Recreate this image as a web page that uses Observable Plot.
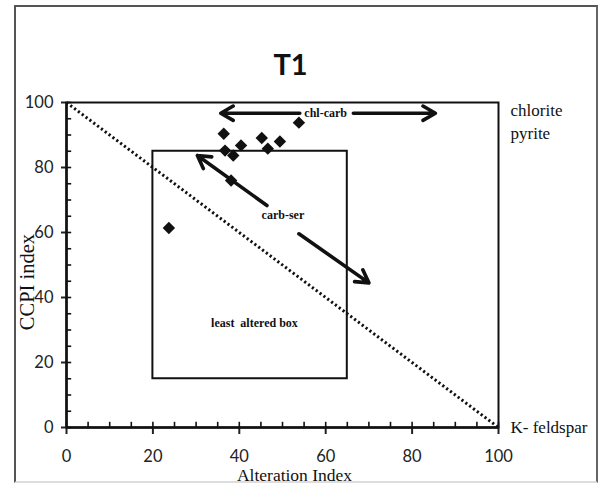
<!DOCTYPE html>
<html>
<head>
<meta charset="utf-8">
<script src="https://cdn.jsdelivr.net/npm/d3@7"></script>
<script src="https://cdn.jsdelivr.net/npm/@observablehq/plot@0.6"></script>
<style>
  html, body { margin: 0; padding: 0; background: #fff; }
  #wrap { position: relative; width: 598px; height: 484px; overflow: hidden; }
  #border { position: absolute; left: 14px; top: 5px; width: 580px; height: 474px;
            border-left: 2px solid #555; border-top: 2px solid #555; border-right: 2px solid #666;
            border-bottom: 2px solid #ddd; pointer-events: none; }
</style>
</head>
<body>
<div id="wrap"><div id="border"></div></div>
<script>
// Data
const alterationIndex = [53.8, 36.4, 36.7, 40.4, 38.6, 45.2, 46.6, 49.4, 38.1, 23.7];
const ccpiIndex       = [93.8, 90.4, 85.2, 86.8, 83.7, 89.1, 85.8, 88.0, 76.0, 61.4];

const majorTicks = [0, 20, 40, 60, 80, 100];
const minorTicks = [0, 5, 10, 15, 20, 25, 30, 35, 40, 45, 50, 55, 60, 65, 70, 75, 80, 85, 90, 95, 100];

// least altered box
const boxX = [20, 65];
const boxY = [15, 85];

// diagonal reference line
const diagX = [0, 100];
const diagY = [100, 0];

// arrows (start near label, head at end)
const arrowX1 = [54.0, 66.4, 46.4, 53.8];
const arrowY1 = [96.7, 96.7, 68.3, 59.6];
const arrowX2 = [35.7, 85.4, 30.3, 70.0];
const arrowY2 = [96.7, 96.7, 83.7, 44.5];

// in-plot labels
const innerLabels = ["chl-carb", "carb-ser", "least  altered box"];
const innerLabelX = [60, 50.1, 43.5];
const innerLabelY = [96.7, 65.2, 32.1];

// right side labels
const sideLabels = ["chlorite", "pyrite", "K- feldspar"];
const sideLabelY = [97.5, 90.4, 0];

const title = "T1";
const xLabel = "Alteration Index";
const yLabel = "CCPI index";

const points = alterationIndex.map((x, i) => ({x, y: ccpiIndex[i]}));
const box = [{x1: boxX[0], x2: boxX[1], y1: boxY[0], y2: boxY[1]}];
const diag = diagX.map((x, i) => ({x, y: diagY[i]}));
const arrows = arrowX1.map((x1, i) => ({x1, y1: arrowY1[i], x2: arrowX2[i], y2: arrowY2[i]}));
const inner = innerLabels.map((t, i) => ({t, x: innerLabelX[i], y: innerLabelY[i]}));
const side = sideLabels.map((t, i) => ({t, y: sideLabelY[i]}));

const tickFont = "Lato, 'Open Sans', sans-serif";
const serif = "'Liberation Serif', 'Times New Roman', serif";

const chart = Plot.plot({
  width: 598,
  height: 484,
  marginLeft: 66,
  marginRight: 100,
  marginTop: 102,
  marginBottom: 57,
  style: {background: "transparent", color: "#111"},
  x: {domain: [0, 100]},
  y: {domain: [0, 100]},
  marks: [
    Plot.frame({stroke: "#111", strokeWidth: 2}),
    Plot.rect(box, {x1: "x1", x2: "x2", y1: "y1", y2: "y2", fill: "none", stroke: "#111", strokeWidth: 2}),
    Plot.line(diag, {x: "x", y: "y", stroke: "#111", strokeWidth: 3, strokeDasharray: "2.2,2.6", strokeLinecap: "butt"}),
    Plot.axisY({ticks: majorTicks, tickSize: 5, tickPadding: 8, strokeWidth: 2, fontSize: 16.5, fontFamily: tickFont, label: null, color: "#222"}),
    Plot.axisX({ticks: majorTicks, tickSize: 7, tickPadding: 16, strokeWidth: 2, fontSize: 16.5, fontFamily: tickFont, label: null, color: "#222"}),
    // minor ticks pointing inward (up from the x axis, right of the y axis)
    Plot.ruleX(minorTicks, {x: d => d, y1: () => 0, y2: () => 1.6, stroke: "#111", strokeWidth: 1.6}),
    Plot.ruleY(minorTicks, {y: d => d, x1: () => 0, x2: () => 1.2, stroke: "#111", strokeWidth: 1.6}),
    Plot.ruleY([0], {stroke: "#111", strokeWidth: 2.5}),
    Plot.ruleX([0], {stroke: "#111", strokeWidth: 2.5}),
    Plot.arrow(arrows, {x1: "x1", y1: "y1", x2: "x2", y2: "y2", stroke: "#111", strokeWidth: 3.6, headLength: 6, headAngle: 60}),
    Plot.dot(points, {x: "x", y: "y", symbol: "diamond2", r: 5.6, fill: "#111", stroke: "none"}),
    Plot.text(inner, {x: "x", y: "y", text: "t", fontFamily: serif, fontWeight: "bold", fontSize: 12, fill: "#111"}),
    Plot.text(side, {x: () => 100, y: "y", text: "t", textAnchor: "start", dx: 12, fontFamily: serif, fontSize: 17, fill: "#111"}),
    Plot.text([title], {frameAnchor: "top", lineAnchor: "middle", textAnchor: "middle", text: d => d, dx: 8, dy: -37, fontFamily: tickFont, fontWeight: "bold", fontSize: 29, fill: "#111"}),
    Plot.text([xLabel], {frameAnchor: "bottom", lineAnchor: "bottom", textAnchor: "middle", text: d => d, dx: 12, dy: 53, fontFamily: serif, fontSize: 17.5, fill: "#111"}),
    Plot.text([yLabel], {frameAnchor: "left", lineAnchor: "middle", textAnchor: "middle", text: d => d, rotate: -90, dx: -39, dy: 17, fontFamily: serif, fontSize: 20.5, fill: "#111"})
  ]
});
document.getElementById("wrap").prepend(chart);
</script>
</body>
</html>
